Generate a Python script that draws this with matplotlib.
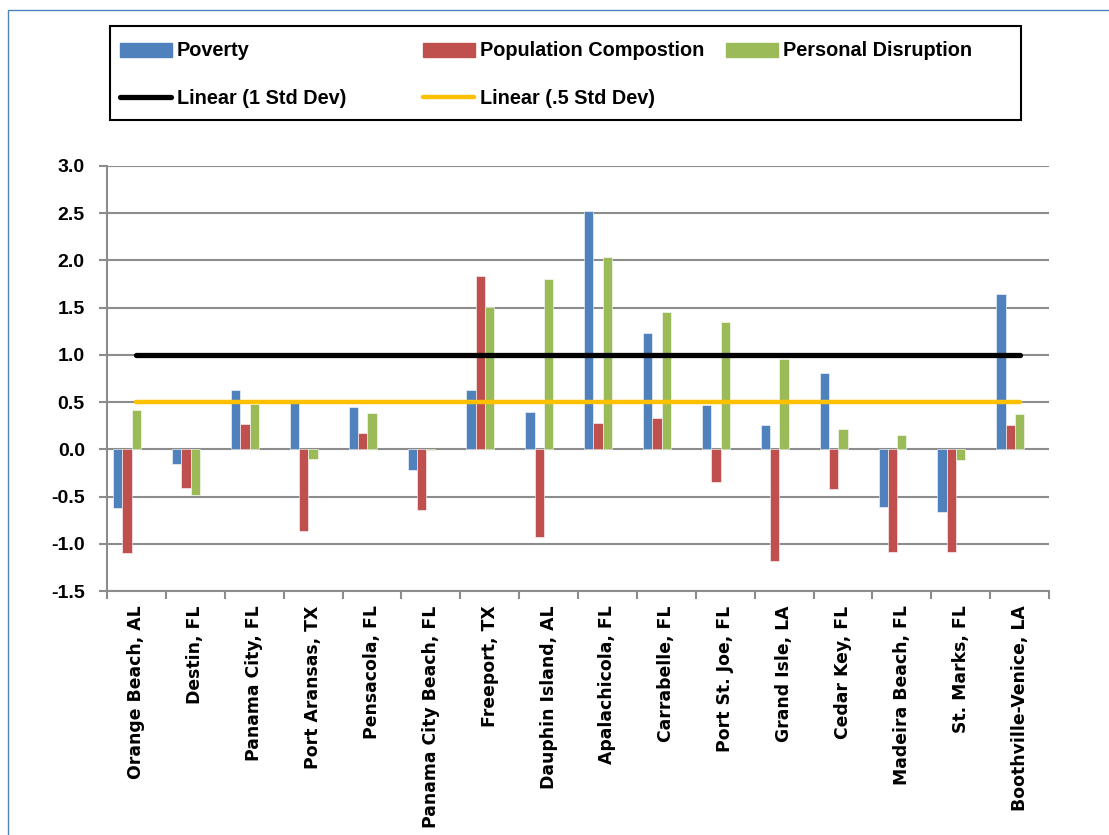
import matplotlib
matplotlib.use("Agg")
import matplotlib.pyplot as plt
import numpy as np
from matplotlib.patches import Rectangle
from matplotlib.lines import Line2D

categories = ["Orange Beach, AL", "Destin, FL", "Panama City, FL", "Port Aransas, TX",
              "Pensacola, FL", "Panama City Beach, FL", "Freeport, TX", "Dauphin Island, AL",
              "Apalachicola, FL", "Carrabelle, FL", "Port St. Joe, FL", "Grand Isle, LA",
              "Cedar Key, FL", "Madeira Beach, FL", "St. Marks, FL", "Boothville-Venice, LA"]
poverty = [-0.62, -0.16, 0.63, 0.49, 0.45, -0.22, 0.63, 0.40, 2.52, 1.23, 0.47, 0.26, 0.81, -0.61, -0.66, 1.65]
population = [-1.10, -0.41, 0.27, -0.86, 0.17, -0.64, 1.84, -0.93, 0.28, 0.33, -0.35, -1.18, -0.42, -1.09, -1.09, 0.26]
disruption = [0.42, -0.48, 0.48, -0.10, 0.38, -0.01, 1.51, 1.80, 2.04, 1.45, 1.35, 0.96, 0.22, 0.15, -0.11, 0.37]
std1 = [1.0] * len(categories)
std05 = [0.5] * len(categories)
yticks = [-1.5, -1.0, -0.5, 0.0, 0.5, 1.0, 1.5, 2.0, 2.5, 3.0]

W, H = 1109, 835
fig = plt.figure(figsize=(W / 100, H / 100), dpi=100)
FONT = "Liberation Sans"

ax = fig.add_axes([107 / W, 1 - 591 / H, (1049 - 107) / W, (591 - 166) / H])
x = np.arange(len(categories))
bw = 0.158
cols = ["#4F81BD", "#C0504D", "#9BBB59"]
for i, (vals, c) in enumerate(zip([poverty, population, disruption], cols)):
    ax.bar(x + (i - 2) * bw, vals, width=bw, color=c, edgecolor="white", linewidth=0.4, zorder=3)
ax.plot(x, std1, color="black", lw=3.8, solid_capstyle="round", zorder=4)
ax.plot(x, std05, color="#FFC000", lw=3.2, solid_capstyle="round", zorder=4)

ax.set_xlim(-0.5, len(categories) - 0.5)
ax.set_ylim(-1.5, 3.0)
ax.set_yticks(yticks)
ax.set_yticklabels([f"{v:.1f}" for v in yticks], fontsize=14, fontweight="bold", family=FONT)
ax.yaxis.grid(True, color="#8C8C8C", lw=1.5, zorder=0)
ax.set_axisbelow(True)
for s in ["top", "right"]:
    ax.spines[s].set_visible(False)
for s in ["left", "bottom"]:
    ax.spines[s].set_color("#8C8C8C")
    ax.spines[s].set_linewidth(1.5)
ax.tick_params(axis="y", length=6, width=1.5, color="#8C8C8C", pad=10)
ax.set_xticks(np.arange(-0.5, len(categories), 1.0))
ax.set_xticklabels([])
ax.tick_params(axis="x", which="major", length=6, width=1.5, color="#8C8C8C")
ax.set_xticks(x, minor=True)
ax.set_xticklabels(categories, minor=True, rotation=90, fontsize=12.4, fontweight="bold",
                   family="DejaVu Sans", va="top", ha="center")
ax.tick_params(axis="x", which="minor", length=0, pad=10.5)

# chart area border
fig.patches.append(Rectangle((8 / W, -0.01), 1.2, 1 - 10 / H + 0.01, transform=fig.transFigure,
                             fill=False, edgecolor="#4F81BD", lw=1.0))

# legend box
def fx(px):
    return px / W

def fy(py):
    return 1 - py / H

fig.patches.append(Rectangle((fx(110), fy(120)), fx(1021) - fx(110), fy(26) - fy(120),
                             transform=fig.transFigure, fill=False, edgecolor="black", lw=1.5))
legend_patches = [("Poverty", cols[0], 120), ("Population Compostion", cols[1], 423),
                  ("Personal Disruption", cols[2], 726)]
for label, c, px in legend_patches:
    fig.patches.append(Rectangle((fx(px), fy(57)), fx(52), 14 / H, transform=fig.transFigure,
                                 color=c))
    fig.text(fx(px + 57), fy(50), label, fontsize=14.3, fontweight="bold", family=FONT,
             va="center", ha="left")
legend_lines = [("Linear (1 Std Dev)", "black", 3.8, 120), ("Linear (.5 Std Dev)", "#FFC000", 3.2, 423)]
for label, c, lw, px in legend_lines:
    fig.lines.append(Line2D([fx(px), fx(px + 51)], [fy(97), fy(97)], transform=fig.transFigure,
                            color=c, lw=lw, solid_capstyle="round"))
    fig.text(fx(px + 57), fy(98), label, fontsize=14.3, fontweight="bold", family=FONT,
             va="center", ha="left")

fig.savefig("out.png", dpi=100)
